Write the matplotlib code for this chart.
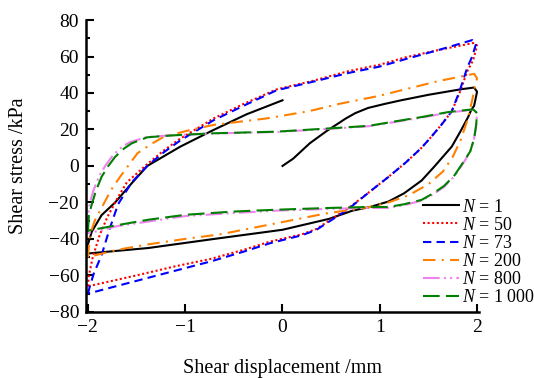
import matplotlib
matplotlib.use("Agg")
import matplotlib.pyplot as plt
from matplotlib.ticker import MultipleLocator

plt.rcParams['font.family'] = ['Liberation Serif', 'DejaVu Serif']
plt.rcParams['mathtext.fontset'] = 'custom'
plt.rcParams['mathtext.it'] = 'Liberation Serif:italic'
plt.rcParams['mathtext.rm'] = 'Liberation Serif'

# N = 1 : first loading from origin, unloading, reloading to 0
x_n1 = [0, 0.11, 0.28, 0.45, 0.55, 0.65, 0.75, 0.88, 1.05, 1.22, 1.5, 1.83, 1.97, 2.0, 1.97, 1.94, 1.91,
        1.83, 1.74, 1.56, 1.43, 1.25, 1.09, 0.9, 0.72, 0.48, 0.0, -0.7, -1.38, -2.0, -2.0, -1.96,
        -1.86, -1.72, -1.55, -1.39, -1.05, -0.71, -0.37, 0.0]
y_n1 = [0, 4, 12.4, 19, 22.5, 26, 29, 31.8, 34, 36, 39, 42, 43, 40.7, 33, 30.7, 27,
        19, 10.6, -0.4, -8, -15, -19.5, -22.5, -24.5, -29, -35, -40, -45, -48, -43, -36,
        -27, -20, -9.5, 0, 10.6, 19.7, 28.3, 36]

# N = 50
x_n50 = [-2.0, -1.99, -1.95, -1.88, -1.8, -1.7, -1.6, -1.39, -1.22, -1.05, -0.71, -0.4, -0.06, 0.3,
         0.68, 1.0, 1.26, 1.6, 1.97, 2.0, 1.96, 1.9, 1.82, 1.74, 1.64, 1.53, 1.43, 1.27, 1.09, 0.9,
         0.68, 0.48, 0.35, 0.2, -0.13, -0.4, -0.74, -1.1, -1.5, -2.0]
y_n50 = [-66, -60, -50, -38, -28, -18, -9, 1, 8.5, 15, 26, 34, 42, 46.5,
         52, 55.5, 59.5, 63.5, 67.5, 66, 58, 52, 40, 30, 23, 16, 10, 2, -6, -14,
         -23, -30, -34.5, -37.5, -41.5, -46, -51, -55, -60, -66]

# N = 73
x_n73 = [-2.0, -1.98, -1.94, -1.86, -1.78, -1.69, -1.55, -1.39, -1.22, -1.05, -0.71, -0.4, -0.06, 0.3,
         0.68, 1.0, 1.26, 1.6, 1.95, 1.99, 1.95, 1.9, 1.82, 1.74, 1.64, 1.53, 1.43, 1.27, 1.09, 0.9,
         0.68, 0.48, 0.35, 0.2, -0.13, -0.4, -0.74, -1.1, -1.5, -2.0]
y_n73 = [-70, -66, -59, -49, -35, -21, -9, 0, 7.5, 14, 25, 33, 41.5, 46,
         51, 54.5, 58.5, 63.5, 69, 67, 60, 54, 41, 30, 23, 16, 10, 2, -6, -14,
         -23.5, -30.5, -35, -38, -42.4, -47, -52.4, -57.4, -63, -70]

# N = 200
x_n200 = [-2.0, -1.98, -1.93, -1.86, -1.76, -1.67, -1.49, -1.35, -1.22, -0.95, -0.71, -0.17, 0.27, 0.58,
          1.0, 1.26, 1.6, 1.97, 2.0, 1.98, 1.95, 1.9, 1.83, 1.75, 1.65, 1.5, 1.3, 1.09, 0.9, 0.72,
          0.45, -0.06, -0.64, -1.0, -1.38, -1.7, -2.0]
y_n200 = [-50, -38, -30, -23, -13, -6, 7, 12, 16, 19.7, 22.5, 26, 30, 34,
          38.5, 42, 46.5, 50.5, 48, 44, 36, 25, 14, 5, -3, -10, -16, -20, -22.5, -24,
          -26, -31.4, -37.5, -40, -43, -46, -50]

# N = 800
x_n800 = [-2.0, -2.0, -1.98, -1.94, -1.88, -1.81, -1.74, -1.65, -1.57, -1.4, -1.2, -1.05, -0.71, -0.06,
          0.61, 0.89, 1.2, 1.43, 1.7, 1.9, 1.96, 2.0, 1.99, 1.97, 1.93, 1.87, 1.77, 1.66, 1.55, 1.43,
          1.25, 1.09, 0.89, 0.5, -0.06, -0.5, -1.0, -1.38, -1.7, -2.0]
y_n800 = [-37, -28, -20, -13, -5, 1, 6, 10.5, 13, 15.8, 16.6, 17, 17.8, 18.6,
          20.8, 21.8, 24.5, 26.5, 29.2, 30.5, 31, 29, 22, 15, 8, 2.5, -5.5, -11.5, -15.5, -19,
          -21.5, -23, -23, -23.5, -24.5, -25.8, -27.5, -30.5, -33, -37]

# N = 1000
x_n1000 = [-2.0, -1.99, -1.96, -1.92, -1.86, -1.79, -1.72, -1.63, -1.55, -1.39, -1.2, -1.05, -0.71, -0.06,
           0.61, 0.89, 1.2, 1.43, 1.7, 1.9, 1.96, 2.0, 1.99, 1.97, 1.93, 1.87, 1.77, 1.66, 1.55, 1.43,
           1.25, 1.09, 0.89, 0.5, -0.06, -0.5, -1.0, -1.38, -1.7, -2.0]
y_n1000 = [-36, -27, -21, -14, -6, 0, 5, 9.5, 12.4, 15.7, 16.5, 17, 17.9, 18.8,
           21, 22, 24.8, 26.8, 29.5, 30.7, 31, 29, 22, 15, 8, 3, -5, -11, -15, -18.6,
           -21, -22.5, -22.5, -23, -24, -25, -26.8, -29.5, -32.5, -35.5]

labels = [r'$N$ = 1', r'$N$ = 50', r'$N$ = 73', r'$N$ = 200', r'$N$ = 800', r'$N$ = 1 000']

fig = plt.figure(figsize=(5.34, 3.78), dpi=100)
ax = fig.add_axes([0.161, 0.175, 0.736, 0.772])

ax.plot(x_n1, y_n1, color='black', lw=1.5, label=labels[0])
ax.plot(x_n50, y_n50, color='red', lw=1.5, ls=(0, (1, 1.2)), label=labels[1])
ax.plot(x_n73, y_n73, color='blue', lw=1.5, ls=(0, (4, 2.5)), label=labels[2])
ax.plot(x_n200, y_n200, color='#ff8000', lw=1.5, ls=(0, (6, 3, 1, 3)), label=labels[3])
ax.plot(x_n800, y_n800, color='violet', lw=1.5, ls=(0, (8, 2, 1, 2, 1, 2)), label=labels[4])
ax.plot(x_n1000, y_n1000, color='green', lw=1.5, ls=(0, (8, 3)), label=labels[5])

ax.set_xlim(-2.02, 2.02)
ax.set_ylim(-80, 80)
ax.set_xticks([-2, -1, 0, 1, 2])
ax.yaxis.set_major_locator(MultipleLocator(20))
ax.yaxis.set_minor_locator(MultipleLocator(10))
ax.tick_params(which='both', direction='in', labelsize=14, width=1.5)
ax.tick_params(which='major', length=6, pad=5)
ax.tick_params(which='minor', length=3)
for s in ['top', 'right']:
    ax.spines[s].set_visible(False)
for s in ['left', 'bottom']:
    ax.spines[s].set_linewidth(1.8)

ax.set_xlabel('Shear displacement /mm', fontsize=14.5, labelpad=17)
ax.set_ylabel('Shear stress /kPa', fontsize=14.5, labelpad=15)

ax.legend(loc='lower right', bbox_to_anchor=(1.16, -0.005), frameon=False, fontsize=13,
          handlelength=2.0, handletextpad=0.15, labelspacing=0.06, borderaxespad=0.0)

fig.savefig('out.png', dpi=100)
